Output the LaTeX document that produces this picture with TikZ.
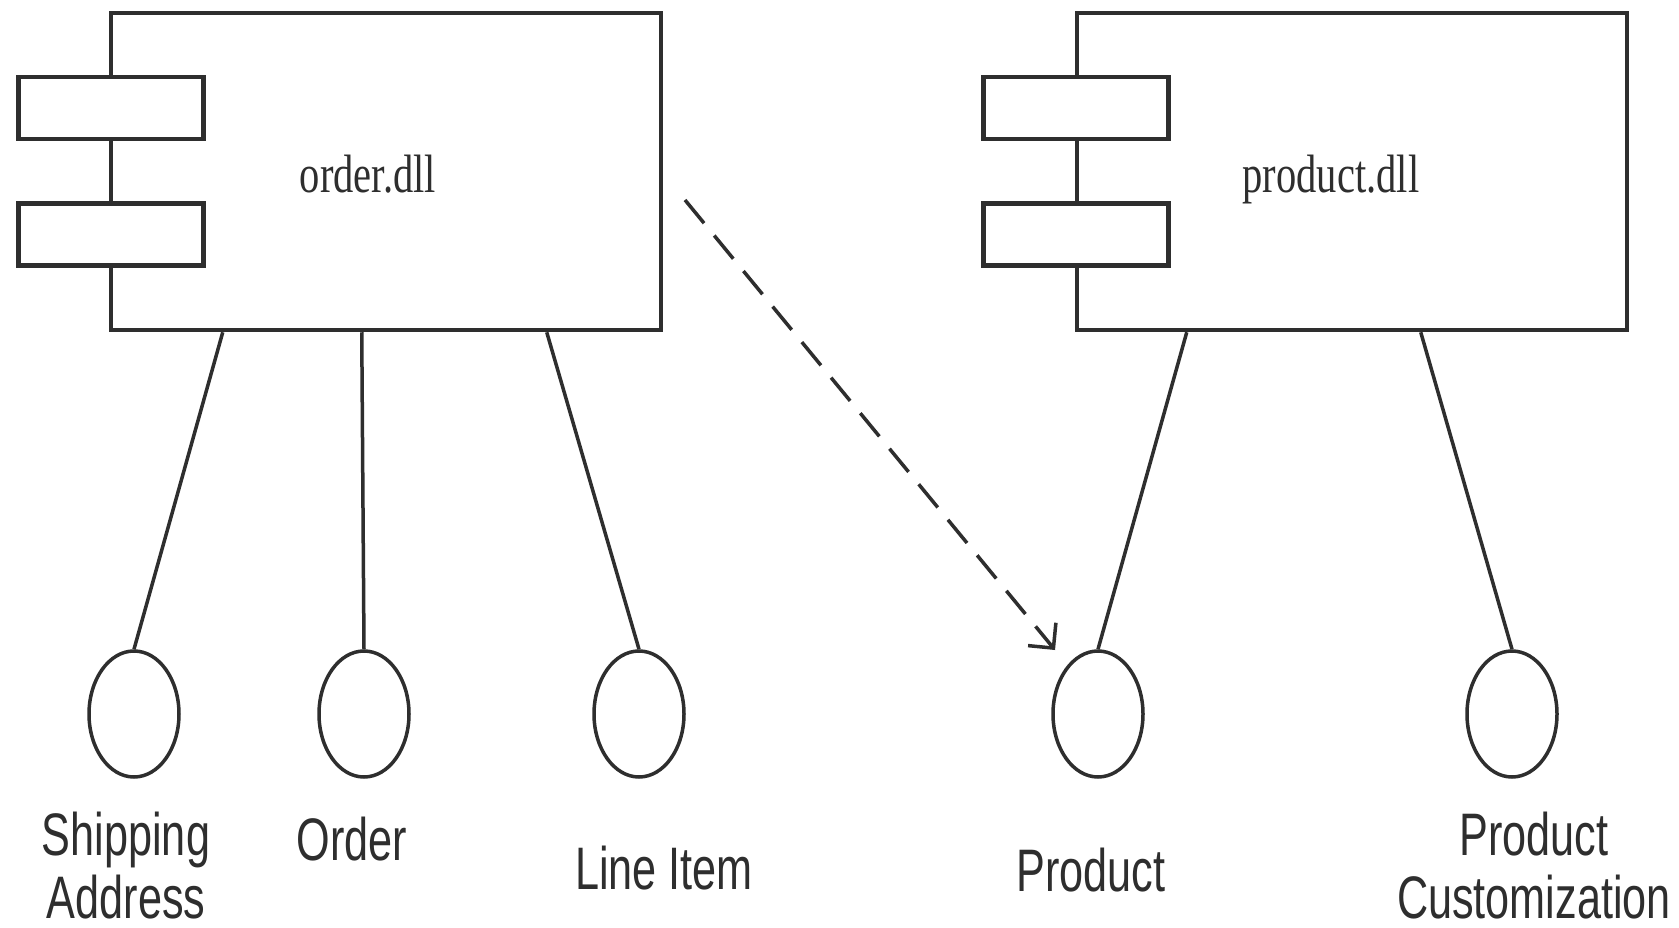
\documentclass[tikz,border=0pt]{standalone}
\usepackage{fontspec}
\setmainfont{Liberation Sans}
\newfontfamily\labfont[FakeStretch=0.72]{Liberation Sans}
\newfontfamily\compfont[FakeStretch=0.75]{Liberation Serif}
\usetikzlibrary{arrows.meta,shapes.geometric}
\definecolor{ink}{HTML}{2E2E2E}
\begin{document}
\begin{tikzpicture}[x=1pt,y=-1pt,
  compbox/.style={draw=ink, line width=4.5pt, fill=white, rectangle, inner sep=0pt,
    minimum width=550pt, minimum height=317pt},
  portbox/.style={draw=ink, line width=4.5pt, fill=white, rectangle, inner sep=0pt,
    minimum width=185pt, minimum height=62pt},
  iface/.style={draw=ink, line width=3.5pt, ellipse, inner sep=0pt,
    minimum width=90pt, minimum height=126pt},
  stem/.style={draw=ink, line width=3.5pt},
  dep/.style={draw=ink, line width=3.5pt, dash pattern=on 30pt off 16pt,
    -{Straight Barb[length=18pt,width=36pt]}},
  complabel/.style={text=ink, font=\compfont\fontsize{54}{60}\selectfont, inner sep=0pt, anchor=base},
  lab/.style={text=ink, font=\labfont\fontsize{60}{63}\selectfont, inner sep=0pt, anchor=base, align=center}]
\useasboundingbox (0,0) rectangle (1679,928);
\fill[white] (0,0) rectangle (1679,928);

% order.dll component
\node[compbox] (orderbox) at (386,171.5) {};
\node[portbox] (oport1) at (111,108) {};
\node[portbox] (oport2) at (111,234.5) {};
\node[complabel] (ordertxt) at (368,193) {order.dll};

% product.dll component
\node[compbox] (prodbox) at (1352,171.5) {};
\node[portbox] (pport1) at (1076,108) {};
\node[portbox] (pport2) at (1076,234.5) {};
\node[complabel] (prodtxt) at (1331,193) {product.dll};

% interfaces
\node[iface] (sa) at (134,714) {};
\node[iface] (ord) at (364,714) {};
\node[iface] (li) at (639,714) {};
\node[iface] (prod) at (1098,714) {};
\node[iface] (pc) at (1512,714) {};

\draw[stem] ([xshift=114pt]orderbox.south west) -- (sa.north);
\draw[stem] ([xshift=253pt]orderbox.south west) -- (ord.north);
\draw[stem] ([xshift=438pt]orderbox.south west) -- (li.north);
\draw[stem] ([xshift=112pt]prodbox.south west) -- (prod.north);
\draw[stem] ([xshift=346pt]prodbox.south west) -- (pc.north);

% labels
\node[lab, text depth=0pt] (salab) at (126,918) {Shipping\\Address};
\node[lab] (ordlab) at (352,860) {Order};
\node[lab] (lilab) at (664,889) {Line Item};
\node[lab] (prodlab) at (1091,891) {Product};
\node[lab, text depth=0pt] (pclab) at (1534,918) {Product\\Customization};

% dependency
\coordinate (depstart) at (685,200);
\coordinate (depend) at (1055,650);
\draw[dep] (depstart) -- (depend);
\end{tikzpicture}
\end{document}
